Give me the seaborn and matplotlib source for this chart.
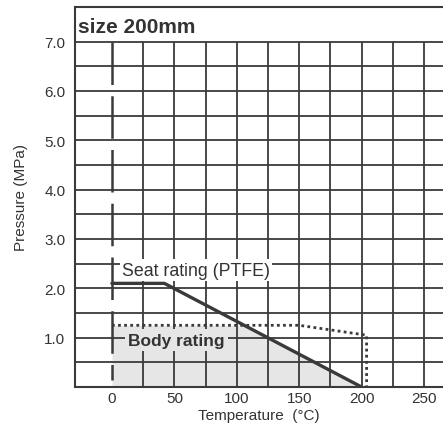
import numpy as np
import pandas as pd
import seaborn as sns
import matplotlib
matplotlib.use('Agg')
import matplotlib.pyplot as plt

# values
seat_temp = [0, 42, 200]
seat_pres = [2.1, 2.1, 0.0]
body_temp = [0, 150, 204, 204]
body_pres = [1.25, 1.25, 1.05, 0.0]
dash_temp = [0, 0]
dash_pres = [7.0, 0.15]
x_ticks = [0, 50, 100, 150, 200, 250]
y_ticks = [1.0, 2.0, 3.0, 4.0, 5.0, 6.0, 7.0]
title = 'size 200mm'

sns.set_theme(style='white')
plt.rcParams['font.family'] = ['Liberation Sans', 'DejaVu Sans']

ink = '#3a3a3a'
txt = '#333333'
shade = '#e6e6e6'

fig = plt.figure(figsize=(4.43, 4.27), dpi=100)
ax = fig.add_axes([75 / 443, 1 - 388 / 427, 1 - 75 / 443, 380 / 427])
ax.set_xlim(-29.6, 265.2)
ax.set_ylim(0, 7.70)

# grid of the paper chart
for yv in np.arange(0.5, 7.01, 0.5):
    ax.axhline(yv, color=ink, lw=1.3, zorder=1)
ax.vlines(np.arange(25, 276, 25), 0, 7.0, color=ink, lw=1.3, zorder=1)

# shaded allowed region: below both ratings
xs = np.linspace(0, 204, 600)
low = np.minimum(np.interp(xs, seat_temp, seat_pres),
                 np.interp(xs, body_temp[:3], body_pres[:3]))
ax.fill_between(xs, 0, low, color=shade, lw=0, zorder=0.5)

seat = pd.DataFrame({'Temperature': seat_temp, 'Pressure': seat_pres})
body = pd.DataFrame({'Temperature': body_temp, 'Pressure': body_pres})
dash = pd.DataFrame({'Temperature': dash_temp, 'Pressure': dash_pres})

sns.lineplot(data=seat, x='Temperature', y='Pressure', ax=ax, color=ink,
             lw=2.4, sort=False, estimator=None, zorder=4)
sns.lineplot(data=body, x='Temperature', y='Pressure', ax=ax, color=ink,
             lw=2.0, ls=(0, (1, 1.2)), sort=False, estimator=None, zorder=4)
sns.lineplot(data=dash, x='Temperature', y='Pressure', ax=ax, color=ink,
             lw=1.8, ls=(0, (17, 4.5)), sort=False, estimator=None, zorder=4)

ax.text(8, 2.37, 'Seat rating (PTFE)', fontsize=12.8, color=txt, va='center',
        ha='left', zorder=3,
        bbox=dict(boxstyle='square,pad=0.12', fc='white', ec='none'))
ax.text(13, 0.95, 'Body rating', fontsize=12.5, fontweight='bold', color=txt,
        va='center', ha='left', zorder=3,
        bbox=dict(boxstyle='square,pad=0.2', fc=shade, ec='none'))

ax.text(0.008, 7.3, title, transform=ax.get_yaxis_transform(),
        fontsize=15, fontweight='bold', color=txt, va='center', ha='left')

ax.set_xticks(x_ticks)
ax.set_xticklabels([str(v) for v in x_ticks])
ax.set_yticks(y_ticks)
ax.set_yticklabels([f'{v:.1f}' for v in y_ticks])
ax.tick_params(length=0, labelsize=11, labelcolor=txt)
ax.tick_params(axis='y', pad=7)
ax.tick_params(axis='x', pad=3)

ax.set_xlabel('Temperature  (°C)', fontsize=11, color=txt)
ax.set_ylabel('Pressure (MPa)', fontsize=11, color=txt)
ax.xaxis.set_label_coords(0.5, -0.056)
ax.yaxis.set_label_coords(-0.128, 0.5)

for side in ['left', 'top', 'bottom']:
    ax.spines[side].set_color(ink)
    ax.spines[side].set_linewidth(1.5)
ax.spines['right'].set_visible(False)

fig.savefig('out.png', dpi=100)
